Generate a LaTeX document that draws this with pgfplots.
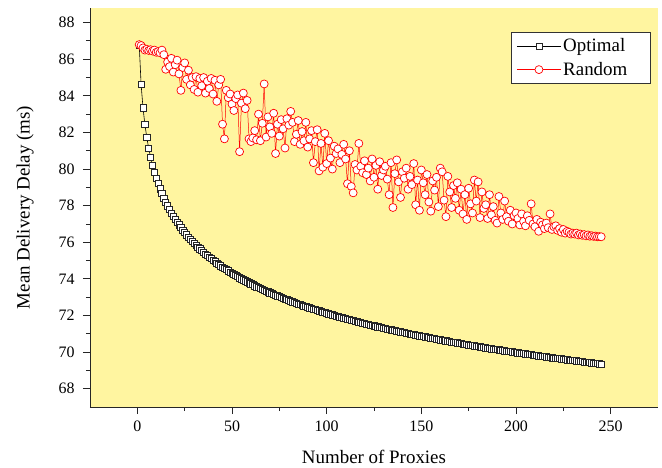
\documentclass[border=0pt]{standalone}
\usepackage{fontspec}
\setmainfont{Liberation Serif}
\usepackage{pgfplots}
\usepackage{pgfplotstable}
\pgfplotsset{compat=1.18}
\definecolor{bgyellow}{RGB}{255,245,160}

% n, optimal, random
\pgfplotstableread{
n opt rnd
1 86.78 86.80
2 84.61 86.75
3 83.34 86.62
4 82.43 86.50
5 81.72 86.55
6 81.14 86.48
7 80.65 86.52
8 80.22 86.45
9 79.84 86.50
10 79.51 86.38
11 79.20 86.42
12 78.92 86.35
13 78.66 86.50
14 78.42 86.25
15 78.19 85.45
16 77.99 85.85
17 77.79 85.60
18 77.60 86.05
19 77.43 85.30
20 77.26 85.70
21 77.10 85.95
22 76.95 85.20
23 76.81 84.30
24 76.67 85.55
25 76.54 85.80
26 76.41 84.90
27 76.29 85.40
28 76.17 84.60
29 76.06 85.00
30 75.95 84.35
31 75.84 85.05
32 75.74 84.20
33 75.64 84.95
34 75.54 84.55
35 75.45 85.00
36 75.36 84.15
37 75.27 84.80
38 75.18 84.40
39 75.10 84.95
40 75.02 84.10
41 74.94 84.85
42 74.86 83.70
43 74.79 84.60
44 74.71 84.90
45 74.64 82.45
46 74.57 81.65
47 74.50 84.30
48 74.44 83.90
49 74.37 84.10
50 74.31 83.55
51 74.24 83.20
52 74.18 83.85
53 74.12 84.05
54 74.06 80.95
55 74.00 83.60
56 73.95 84.15
57 73.89 83.30
58 73.84 83.75
59 73.78 81.65
60 73.73 81.50
61 73.68 81.70
62 73.62 82.10
63 73.57 81.60
64 73.52 83.00
65 73.48 81.55
66 73.43 82.50
67 73.38 84.65
68 73.33 81.75
69 73.29 82.85
70 73.24 82.30
71 73.20 81.95
72 73.15 83.05
73 73.11 80.85
74 73.07 82.45
75 73.03 81.80
76 72.98 82.70
77 72.94 82.20
78 72.90 81.15
79 72.86 82.75
80 72.82 82.40
81 72.78 83.15
82 72.74 82.55
83 72.71 81.50
84 72.67 81.90
85 72.63 82.65
86 72.60 81.35
87 72.56 82.05
88 72.52 81.55
89 72.49 82.55
90 72.45 81.20
91 72.42 81.65
92 72.38 82.10
93 72.35 80.35
94 72.32 81.50
95 72.28 82.15
96 72.25 79.90
97 72.22 81.40
98 72.19 80.10
99 72.16 81.95
100 72.12 80.30
101 72.09 81.55
102 72.06 80.60
103 72.03 80.00
104 72.00 81.25
105 71.97 80.85
106 71.94 81.10
107 71.92 80.35
108 71.89 80.80
109 71.86 81.35
110 71.83 80.55
111 71.80 79.20
112 71.77 81.00
113 71.75 79.05
114 71.72 78.70
115 71.69 80.25
116 71.66 79.95
117 71.64 81.40
118 71.61 80.15
119 71.59 79.80
120 71.56 80.45
121 71.53 79.70
122 71.51 80.05
123 71.48 79.35
124 71.46 80.55
125 71.43 79.55
126 71.41 80.20
127 71.38 78.90
128 71.36 80.40
129 71.34 79.65
130 71.31 79.95
131 71.29 80.15
132 71.26 79.45
133 71.24 78.60
134 71.22 80.35
135 71.20 77.90
136 71.17 79.75
137 71.15 80.50
138 71.13 79.30
139 71.11 78.45
140 71.08 79.85
141 71.06 79.50
142 71.04 80.05
143 71.02 78.90
144 70.99 79.60
145 70.97 79.15
146 70.95 80.30
147 70.93 78.05
148 70.91 79.40
149 70.89 77.75
150 70.87 79.95
151 70.85 79.25
152 70.83 78.60
153 70.81 79.70
154 70.79 78.20
155 70.77 77.70
156 70.75 79.35
157 70.73 78.85
158 70.71 79.55
159 70.69 77.95
160 70.67 80.05
161 70.65 79.85
162 70.63 78.30
163 70.61 77.40
164 70.59 79.60
165 70.57 78.75
166 70.55 77.90
167 70.54 79.10
168 70.52 78.40
169 70.50 79.25
170 70.48 77.75
171 70.46 78.90
172 70.44 77.55
173 70.43 78.60
174 70.41 77.25
175 70.39 78.95
176 70.37 78.10
177 70.36 77.60
178 70.34 79.40
179 70.32 78.25
180 70.30 79.30
181 70.29 77.35
182 70.27 78.75
183 70.25 77.85
184 70.23 78.05
185 70.22 77.30
186 70.20 78.60
187 70.18 77.50
188 70.17 77.95
189 70.15 77.20
190 70.13 77.05
191 70.12 78.50
192 70.10 77.60
193 70.09 77.25
194 70.07 78.25
195 70.05 77.40
196 70.04 77.15
197 70.02 77.75
198 70.01 77.00
199 69.99 77.45
200 69.98 77.60
201 69.96 77.30
202 69.95 76.95
203 69.93 77.55
204 69.92 77.15
205 69.90 76.90
206 69.89 77.45
207 69.87 77.20
208 69.86 78.10
209 69.84 77.00
210 69.82 76.85
211 69.81 77.25
212 69.80 76.60
213 69.78 77.10
214 69.77 76.95
215 69.75 76.75
216 69.74 77.05
217 69.72 76.80
218 69.71 77.55
219 69.69 76.70
220 69.68 76.85
221 69.67 76.90
222 69.65 76.65
223 69.64 76.75
224 69.63 76.55
225 69.61 76.70
226 69.60 76.50
227 69.58 76.60
228 69.57 76.55
229 69.56 76.45
230 69.54 76.50
231 69.53 76.45
232 69.52 76.50
233 69.50 76.40
234 69.49 76.45
235 69.48 76.38
236 69.46 76.42
237 69.45 76.35
238 69.44 76.40
239 69.42 76.33
240 69.41 76.36
241 69.40 76.32
242 69.38 76.34
243 69.37 76.30
244 69.36 76.31
245 69.35 76.30
}\proxydata

\begin{document}
\begin{tikzpicture}
\begin{axis}[
    scale only axis,
    width=568bp, height=399bp,
    xmin=-25, xmax=275,
    ymin=67, ymax=88.8,
    xtick={0,50,...,250},
    ytick={68,70,...,88},
    minor tick num=1,
    axis lines=left,
    axis line style={-, line width=1pt, black!85},
    tick style={line width=0.9pt, black!85},
    tick align=outside,
    major tick length=7bp,
    minor tick length=4bp,
    axis background/.style={fill=bgyellow},
    ticklabel style={font=\fontsize{16}{19}\selectfont},
    yticklabel style={xshift=-5bp},
    xticklabel style={yshift=-3bp},
    /pgf/number format/assume math mode=true,
    xlabel={Number of Proxies},
    ylabel={Mean Delivery Delay (ms)},
    label style={font=\fontsize{19}{22}\selectfont},
    xlabel shift=12bp,
    ylabel shift=18bp,
    legend style={
        at={(0.987,0.939)}, anchor=north east,
        draw=black!80, fill=white, line width=0.8pt,
        font=\fontsize{19}{22}\selectfont,
        inner xsep=5pt, inner ysep=4pt, row sep=5pt,
    },
    legend cell align=left,
    legend image code/.code={
        \draw[mark repeat=2, mark phase=2] plot coordinates {(0bp,0bp) (22bp,0bp) (44bp,0bp)};
    },
]
\addplot[black, line width=0.6pt, mark=square*, mark size=3.1bp,
    mark options={fill=white, draw=black!85, line width=0.7pt}]
    table[x=n, y=opt] {\proxydata};
\addlegendentry{\makebox[80bp][l]{Optimal}}

\addplot[red, line width=0.5pt, mark=*, mark size=4bp,
    mark options={fill=white, draw=red, line width=0.7pt}]
    table[x=n, y=rnd] {\proxydata};
\addlegendentry{\makebox[80bp][l]{Random}}
\end{axis}
\path (current axis.south west) ++(-90bp,-61bp) (current axis.north east) ++(4bp,8bp);
\end{tikzpicture}
\end{document}
